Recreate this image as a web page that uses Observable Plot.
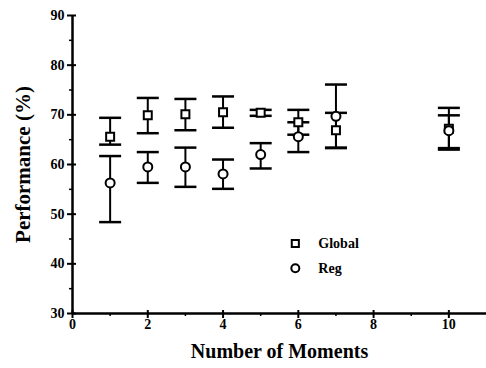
<!DOCTYPE html>
<html><head><meta charset="utf-8">
<script src="https://cdn.jsdelivr.net/npm/d3@7"></script>
<script src="https://cdn.jsdelivr.net/npm/@observablehq/plot@0.6"></script>
<style>
body{margin:0;background:#fff;}
g[aria-label="y-axis label"] text{font-size:21px;}
g[aria-label="x-axis label"] text{font-size:20px;}
g[aria-label="y-axis tick label"], g[aria-label="x-axis tick label"]{font-size:14px;font-family:'Liberation Serif','Times New Roman',serif;font-weight:bold;}
</style>
</head><body><div id="chart"></div>
<script>
const moments   = [1, 2, 3, 4, 5, 6, 7, 10];
const globalMean = [65.6, 69.9, 70.1, 70.5, 70.4, 68.5, 66.9, 67.2];
const globalLo   = [64.0, 66.3, 66.9, 67.4, 69.8, 66.0, 63.4, 63.3];
const globalHi   = [69.4, 73.4, 73.2, 73.7, 71.0, 71.0, 70.4, 71.4];
const regMean    = [56.3, 59.5, 59.5, 58.1, 62.0, 65.6, 69.7, 66.8];
const regLo      = [48.4, 56.3, 55.5, 55.1, 59.2, 62.5, 63.3, 63.0];
const regHi      = [61.7, 62.5, 63.4, 61.0, 64.3, 68.5, 76.1, 69.9];
const seriesNames = ["Global", "Reg"];
const yMajor = [30, 40, 50, 60, 70, 80, 90];
const yMinor = [35, 45, 55, 65, 75, 85];
const xMajor = [0, 2, 4, 6, 8, 10];
const xMinor = [1, 3, 5, 7, 9];

const rows = [];
moments.forEach((m, i) => {
  rows.push({x: m, series: "Global", mean: globalMean[i], lo: globalLo[i], hi: globalHi[i]});
  rows.push({x: m, series: "Reg", mean: regMean[i], lo: regLo[i], hi: regHi[i]});
});
const caps = rows.flatMap(r => [{x: r.x, y: r.lo}, {x: r.x, y: r.hi}]);

const capSymbol = {draw(ctx) { ctx.moveTo(-11, 0); ctx.lineTo(11, 0); }};
const symbolFor = {Global: "square", Reg: "circle"};
const serif = "'Liberation Serif', 'Times New Roman', serif";

const legendRows = [{x: 6, y: 44.1, series: seriesNames[0]}, {x: 6, y: 39.1, series: seriesNames[1]}];

const chart = Plot.plot({
  width: 486, height: 368,
  marginLeft: 72, marginRight: 0, marginTop: 15, marginBottom: 55,
  style: {fontFamily: serif, fontWeight: "bold", background: "white"},
  x: {domain: [0, 11]},
  y: {domain: [30, 90]},
  marks: [
    Plot.axisY({ticks: yMajor, tickSize: 5, tickPadding: 3, fontSize: 14, fontFamily: serif, fontWeight: "bold", label: "Performance (%)", labelAnchor: "center", labelArrow: "none", labelOffset: 57, strokeWidth: 2}),
    Plot.axisY({ticks: yMajor, tickSize: 4, text: null, label: null, dx: 4, strokeWidth: 2}),
    Plot.axisY({ticks: yMinor, tickSize: 3, text: null, label: null, strokeWidth: 1.5}),
    Plot.axisX({ticks: xMajor, tickSize: 5, tickPadding: 1, fontSize: 14, fontFamily: serif, fontWeight: "bold", label: "Number of Moments", labelAnchor: "center", labelArrow: "none", labelOffset: 44, strokeWidth: 2}),
    Plot.axisX({ticks: xMajor, tickSize: 3, text: null, label: null, dy: -3, strokeWidth: 2}),
    Plot.axisX({ticks: xMinor, tickSize: 3, text: null, label: null, strokeWidth: 1.5}),
    Plot.ruleX([0], {stroke: "black", strokeWidth: 2.5}),
    Plot.ruleY([30], {stroke: "black", strokeWidth: 2.5}),
    Plot.ruleX(rows, {x: "x", y1: "lo", y2: "hi", stroke: "black", strokeWidth: 2}),
    Plot.dot(caps, {x: "x", y: "y", symbol: capSymbol, stroke: "black", fill: "none", strokeWidth: 2.5}),
    Plot.dot(rows, {x: "x", y: "mean", symbol: d => symbolFor[d.series], r: 4.5, fill: "white", stroke: "black", strokeWidth: 2}),
    Plot.dot(legendRows, {x: "x", y: "y", symbol: d => symbolFor[d.series], r: 4, fill: "white", stroke: "black", strokeWidth: 2, dx: -3}),
    Plot.text(legendRows, {x: "x", y: "y", text: "series", textAnchor: "start", dx: 20, fontSize: 14, fontFamily: serif, fontWeight: "bold"})
  ]
});
document.getElementById("chart").appendChild(chart);
</script>
</body></html>
